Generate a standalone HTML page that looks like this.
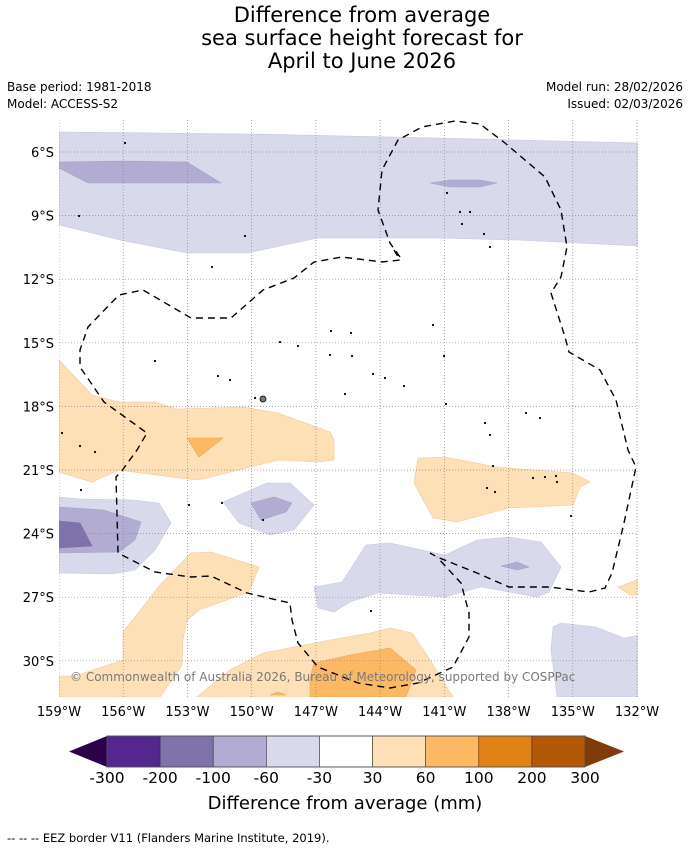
<!DOCTYPE html>
<html><head><meta charset="utf-8">
<style>
body{margin:0;background:#fff;width:690px;height:850px;overflow:hidden;font-family:"Liberation Sans","DejaVu Sans",sans-serif}
svg text{font-family:"DejaVu Sans","Liberation Sans",sans-serif}
</style></head>
<body>
<svg id="chart" width="690" height="850" viewBox="0 0 690 850" xmlns="http://www.w3.org/2000/svg">
<text x="362" y="22" font-size="21" text-anchor="middle">Difference from average</text>
<text x="362" y="45" font-size="21" text-anchor="middle">sea surface height forecast for</text>
<text x="362" y="68" font-size="21" text-anchor="middle">April to June 2026</text>
<text x="7" y="91" font-size="12">Base period: 1981-2018</text>
<text x="7" y="108" font-size="12">Model: ACCESS-S2</text>
<text x="683" y="91" font-size="12" text-anchor="end">Model run: 28/02/2026</text>
<text x="683" y="108" font-size="12" text-anchor="end">Issued: 02/03/2026</text>
<g id="map"></g>
<g id="cbar"></g>
<text x="345" y="809" font-size="18" text-anchor="middle">Difference from average (mm)</text>
<text x="7" y="842" font-size="11.5">--  --  -- EEZ border V11 (Flanders Marine Institute, 2019).</text>
</svg>
<script>
const NS="http://www.w3.org/2000/svg";
const lonTicks=[159,156,153,150,147,144,141,138,135,132];
const latTicks=[6,9,12,15,18,21,24,27,30];
const cbBounds=["-300","-200","-100","-60","-30","30","60","100","200","300"];
const cbColors=["#54278f","#8073ac","#b2abd2","#d8daeb","#ffffff","#fee0b6","#fdb863","#e08214","#b35806"];
const cbEnds=["#2d004b","#7f3b08"];
// contour polygons (map pixel outlines)
const c_m30=[
 [[59,132],[250,134],[437,138],[640,143],[640,246],[517,240],[437,238],[318,238],[247,253],[187,253],[120,240],[59,225]],
 [[223,502],[267,483],[290,483],[314,505],[294,530],[270,535],[239,523]],
 [[59,497],[80,499],[133,500],[159,503],[171,523],[155,550],[135,570],[112,574],[59,573]],
 [[314,587],[342,582],[366,545],[390,543],[445,555],[477,540],[509,537],[541,542],[561,567],[549,592],[537,597],[481,587],[445,597],[378,593],[350,602],[334,612],[318,608]],
 [[551,650],[553,627],[561,623],[596,627],[624,638],[640,635],[640,697],[557,697]]
];
const c_m60=[
 [[59,162],[120,161],[187,162],[221,183],[88,183],[59,168]],
 [[430,183],[450,180],[480,180],[497,183],[480,187],[450,187]],
 [[59,507],[104,510],[141,522],[135,540],[119,552],[59,553]],
 [[251,503],[274,497],[292,503],[286,512],[261,520]],
 [[501,566],[517,562],[529,567],[517,570]]
];
const c_m100=[[[59,521],[80,523],[92,546],[59,548]]];
const c_p30=[
 [[59,360],[92,395],[119,402],[155,402],[177,409],[243,407],[278,413],[330,432],[334,440],[334,460],[318,462],[278,460],[199,480],[179,478],[119,470],[92,482],[59,472]],
 [[418,458],[445,457],[497,467],[573,473],[590,482],[580,487],[573,505],[509,508],[457,522],[433,518],[414,483]],
 [[59,697],[59,676],[75,676],[123,660],[123,632],[135,617],[160,585],[191,553],[211,552],[259,567],[249,592],[199,610],[187,620],[183,640],[182,665],[172,680],[160,697]],
 [[197,697],[230,670],[263,653],[330,640],[370,633],[390,628],[412,633],[430,660],[453,697]],
 [[618,587],[637,580],[640,580],[640,595],[630,595]]
];
const c_p60=[
 [[187,438],[223,438],[199,457]],
 [[310,697],[310,678],[314,663],[350,655],[390,648],[416,670],[406,697]],
 [[270,695],[278,692],[286,695]]
];
const eez=[
 [[400,257],[390,243],[378,210],[382,170],[398,140],[422,127],[455,121],[480,124],[505,143],[545,177],[561,210],[567,247],[561,277],[551,293],[565,337],[569,352],[600,370],[616,400],[628,450],[636,467],[624,523],[612,573],[605,588],[589,592],[549,587],[509,587],[477,573],[437,557],[430,553]],
 [[394,250],[400,260],[382,262],[342,257],[314,262],[294,278],[263,290],[231,318],[191,318],[143,290],[119,295],[88,327],[80,350],[80,367],[104,402],[147,433],[137,450],[121,472],[116,477],[118,553],[155,572],[191,577],[211,576],[247,593],[290,603],[292,620],[298,643],[318,667],[358,683],[390,688],[418,683],[453,667],[469,637],[469,613],[461,583],[437,557]]
];
const islands=[[125,143],[79,216],[245,236],[212,267],[433,325],[331,331],[351,333],[280,342],[298,346],[330,355],[352,356],[155,361],[218,376],[230,380],[262,399],[255,398],[373,374],[385,378],[404,386],[345,394],[444,356],[446,404],[485,423],[490,435],[526,413],[540,418],[62,433],[80,446],[95,452],[222,503],[263,520],[81,490],[189,505],[371,611],[447,193],[460,212],[470,212],[462,224],[484,234],[490,247],[493,466],[487,488],[495,492],[533,478],[557,482],[571,516],[556,476],[545,477]];

const map=document.getElementById('map');
function el(t,a,p){const e=document.createElementNS(NS,t);for(const k in a)e.setAttribute(k,a[k]);(p||map).appendChild(e);return e;}
const X0=59,X1=637,Y6=152,DY=63.6/3;
function xLon(l){return X0+(159-l)*(X1-X0)/27;}
function yLat(l){return Y6+(l-6)*DY;}
const clip=el('clipPath',{id:'mc'});el('rect',{x:59,y:120,width:579,height:577},clip);
const g=el('g',{'clip-path':'url(#mc)'});
function polys(arr,fill,stroke,name){arr.forEach(p=>{const e=el('polygon',{points:p.map(q=>q.join(',')).join(' '),fill:fill,stroke:stroke,'stroke-width':0.6},g);

});}
polys(c_m30,cbColors[3],'#c8c9df','contour-minus-30');
polys(c_m60,cbColors[2],'#a8a2cc','contour-minus-60');
polys(c_m100,cbColors[1],'#7a6ea8','contour-minus-100');
polys(c_p30,cbColors[5],'#f0c898','contour-plus-30');
polys(c_p60,cbColors[6],'#e8a858','contour-plus-60');
lonTicks.forEach(l=>{const x=xLon(l);
 const ln=el('line',{x1:x,y1:120,x2:x,y2:697,stroke:'#888','stroke-width':0.7,'stroke-dasharray':'1,2'},g);
 
 
 const t=el('text',{x:x,y:716,'font-size':13,'text-anchor':'middle'});t.textContent=l+'°W';
 
 });
latTicks.forEach(l=>{const y=yLat(l);
 const ln=el('line',{x1:59,y1:y,x2:637,y2:y,stroke:'#888','stroke-width':0.7,'stroke-dasharray':'1,2'},g);
 
 
 const t=el('text',{x:54,y:y+5,'font-size':13,'text-anchor':'end'});t.textContent=l+'°S';
 
 });
islands.forEach(p=>{const c=el('circle',{cx:p[0],cy:p[1],r:1.1,fill:'#000'},g);
 
 });
const tah=el('circle',{cx:263,cy:399,r:3,fill:'#777',stroke:'#000','stroke-width':0.8},g);


eez.forEach(p=>{const e=el('polyline',{points:p.map(q=>q.join(',')).join(' '),fill:'none',stroke:'#000','stroke-width':1.4,'stroke-dasharray':'7,5'},g);
 
 });
const cp=el('text',{x:70,y:681,'font-size':12,fill:'#7a7a7a'},g);cp.textContent='© Commonwealth of Australia 2026, Bureau of Meteorology, supported by COSPPac';



// colorbar
const cb=document.getElementById('cbar');
const bx0=107,bx1=585,by0=736,by1=767,n=cbColors.length,bw=(bx1-bx0)/n;
const lt=el('polygon',{points:`69,${(by0+by1)/2} ${bx0},${by0} ${bx0},${by1}`,fill:cbEnds[0]},cb);


const rt=el('polygon',{points:`624,${(by0+by1)/2} ${bx1},${by0} ${bx1},${by1}`,fill:cbEnds[1]},cb);


cbColors.forEach((c,i)=>{const r=el('rect',{x:bx0+i*bw,y:by0,width:bw,height:by1-by0,fill:c,stroke:'#333','stroke-width':0.6},cb);
 
 });
el('rect',{x:bx0,y:by0,width:bx1-bx0,height:by1-by0,fill:'none',stroke:'#555','stroke-width':0.8},cb);
cbBounds.forEach((b,i)=>{const t=el('text',{x:bx0+i*bw,y:783,'font-size':15.5,'text-anchor':'middle'},cb);t.textContent=b;
 
 });
</script>
</body></html>
